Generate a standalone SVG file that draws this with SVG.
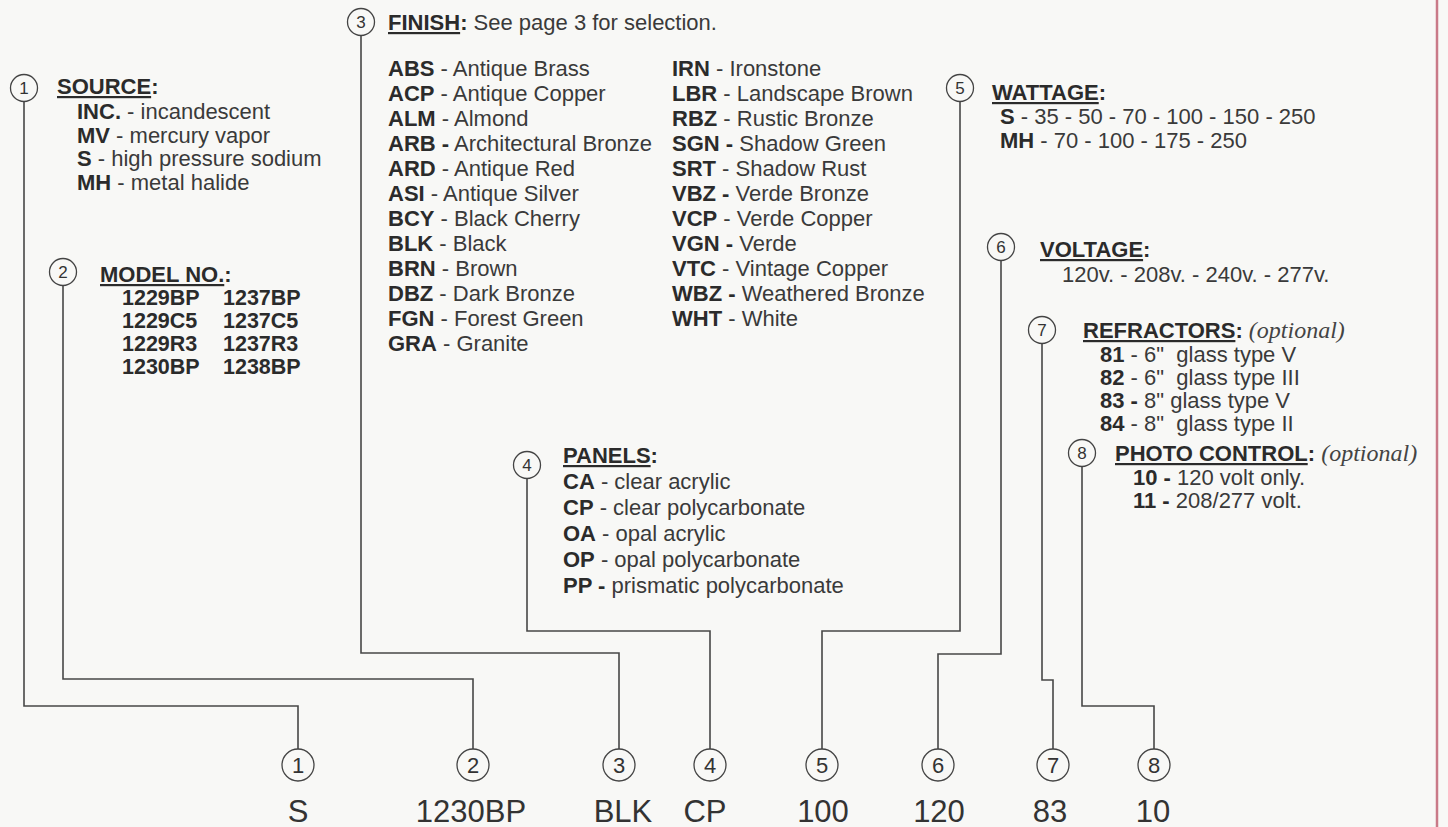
<svg xmlns="http://www.w3.org/2000/svg" width="1448" height="827" viewBox="0 0 1448 827">
<style>
  text { font-family: "Liberation Sans", Arial, sans-serif; fill: #3a3a3a; }
  .b { font-weight: bold; fill: #2b2b2b; }
  .h { font-size: 22px; font-weight: bold; fill: #2b2b2b; }
  .t { font-size: 22px; }
  .u { text-decoration: underline; }
  .opt { font-family: "Liberation Serif", "Times New Roman", serif; font-style: italic; font-weight: normal; fill: #444; font-size: 24px; }
  .num { font-size: 17px; text-anchor: middle; fill: #333; }
  .bnum { font-size: 22px; text-anchor: middle; fill: #333; }
  .val { font-size: 31px; text-anchor: middle; fill: #333; }
  circle { fill: none; stroke: #444; stroke-width: 1.3; }
  .conn path { fill: none; stroke: #474747; stroke-width: 1.6; }
</style>
<rect width="1448" height="827" fill="#f8f8f6"/>
<line x1="1437" y1="0" x2="1437" y2="827" stroke="#c97a88" stroke-width="2.5"/>

<g class="conn" id="connectors">
  <path d="M24 101.5 V706 H298 V749"/>
  <path d="M63 285.5 V679 H473 V749"/>
  <path d="M361 35.5 V653 H619 V749"/>
  <path d="M527 478.5 V631 H710 V749"/>
  <path d="M960 101.5 V631 H822 V749"/>
  <path d="M1001 260.5 V654 H938 V749"/>
  <path d="M1042 343.5 V680 H1053 V749"/>
  <path d="M1082 466.5 V706 H1154 V749"/>
</g>

<g id="source">
  <circle cx="24" cy="88" r="13.5"/><text class="num" x="24" y="94">1</text>
  <text class="h" x="57" y="94"><tspan class="u">SOURCE</tspan>:</text>
  <text class="t" x="77" y="119"><tspan class="b">INC.</tspan> - incandescent</text>
  <text class="t" x="77" y="142.5"><tspan class="b">MV</tspan> - mercury vapor</text>
  <text class="t" x="77" y="166"><tspan class="b">S</tspan> - high pressure sodium</text>
  <text class="t" x="77" y="189.5"><tspan class="b">MH</tspan> - metal halide</text>
</g>

<g id="model">
  <circle cx="63" cy="272" r="13.5"/><text class="num" x="63" y="278">2</text>
  <text class="h" x="100" y="282"><tspan class="u">MODEL NO.</tspan>:</text>
  <text class="b" font-size="21.5" x="122" y="305">1229BP</text><text class="b" font-size="21.5" x="223" y="305">1237BP</text>
  <text class="b" font-size="21.5" x="122" y="328">1229C5</text><text class="b" font-size="21.5" x="223" y="328">1237C5</text>
  <text class="b" font-size="21.5" x="122" y="351">1229R3</text><text class="b" font-size="21.5" x="223" y="351">1237R3</text>
  <text class="b" font-size="21.5" x="122" y="374">1230BP</text><text class="b" font-size="21.5" x="223" y="374">1238BP</text>
</g>

<g id="finish">
  <circle cx="361" cy="22" r="13.5"/><text class="num" x="361" y="28">3</text>
  <text class="h" x="388" y="30"><tspan class="u">FINISH</tspan>:<tspan font-weight="normal" fill="#3a3a3a">  See page 3 for selection.</tspan></text>
  <text class="t" x="388" y="76"><tspan class="b">ABS</tspan> - Antique Brass</text>
  <text class="t" x="388" y="101"><tspan class="b">ACP</tspan> - Antique Copper</text>
  <text class="t" x="388" y="126"><tspan class="b">ALM</tspan> - Almond</text>
  <text class="t" x="388" y="151"><tspan class="b">ARB -</tspan> Architectural Bronze</text>
  <text class="t" x="388" y="176"><tspan class="b">ARD</tspan> - Antique Red</text>
  <text class="t" x="388" y="201"><tspan class="b">ASI</tspan> - Antique Silver</text>
  <text class="t" x="388" y="226"><tspan class="b">BCY</tspan> - Black Cherry</text>
  <text class="t" x="388" y="251"><tspan class="b">BLK</tspan> - Black</text>
  <text class="t" x="388" y="276"><tspan class="b">BRN</tspan> - Brown</text>
  <text class="t" x="388" y="301"><tspan class="b">DBZ</tspan> - Dark Bronze</text>
  <text class="t" x="388" y="326"><tspan class="b">FGN</tspan> - Forest Green</text>
  <text class="t" x="388" y="351"><tspan class="b">GRA</tspan> - Granite</text>
  <text class="t" x="672" y="76"><tspan class="b">IRN</tspan> - Ironstone</text>
  <text class="t" x="672" y="101"><tspan class="b">LBR</tspan> - Landscape Brown</text>
  <text class="t" x="672" y="126"><tspan class="b">RBZ</tspan> - Rustic Bronze</text>
  <text class="t" x="672" y="151"><tspan class="b">SGN -</tspan> Shadow Green</text>
  <text class="t" x="672" y="176"><tspan class="b">SRT</tspan> - Shadow Rust</text>
  <text class="t" x="672" y="201"><tspan class="b">VBZ -</tspan> Verde Bronze</text>
  <text class="t" x="672" y="226"><tspan class="b">VCP</tspan> - Verde Copper</text>
  <text class="t" x="672" y="251"><tspan class="b">VGN -</tspan> Verde</text>
  <text class="t" x="672" y="276"><tspan class="b">VTC</tspan> - Vintage Copper</text>
  <text class="t" x="672" y="301"><tspan class="b">WBZ -</tspan> Weathered Bronze</text>
  <text class="t" x="672" y="326"><tspan class="b">WHT</tspan> - White</text>
</g>

<g id="panels">
  <circle cx="527" cy="465" r="13.5"/><text class="num" x="527" y="471">4</text>
  <text class="h" x="563" y="463"><tspan class="u">PANELS</tspan>:</text>
  <text class="t" x="563" y="489" font-size="23"><tspan class="b">CA</tspan> - clear acrylic</text>
  <text class="t" x="563" y="515" font-size="23"><tspan class="b">CP</tspan> - clear polycarbonate</text>
  <text class="t" x="563" y="541" font-size="23"><tspan class="b">OA</tspan> - opal acrylic</text>
  <text class="t" x="563" y="567" font-size="23"><tspan class="b">OP</tspan> - opal polycarbonate</text>
  <text class="t" x="563" y="593" font-size="23"><tspan class="b">PP -</tspan> prismatic polycarbonate</text>
</g>

<g id="wattage">
  <circle cx="960" cy="88" r="13.5"/><text class="num" x="960" y="94">5</text>
  <text class="h" x="992" y="100"><tspan class="u">WATTAGE</tspan>:</text>
  <text class="t" x="1000" y="124" font-size="23"><tspan class="b">S</tspan> - 35 - 50 - 70 - 100 - 150 - 250</text>
  <text class="t" x="1000" y="148" font-size="23"><tspan class="b">MH</tspan> - 70 - 100 - 175 - 250</text>
</g>

<g id="voltage">
  <circle cx="1001" cy="247" r="13.5"/><text class="num" x="1001" y="253">6</text>
  <text class="h" x="1040" y="257"><tspan class="u">VOLTAGE</tspan>:</text>
  <text class="t" x="1062" y="282" font-size="21.5">120v. - 208v. - 240v. - 277v.</text>
</g>

<g id="refractors">
  <circle cx="1042" cy="330" r="13.5"/><text class="num" x="1042" y="336">7</text>
  <text class="h" x="1083" y="338" font-size="23"><tspan class="u">REFRACTORS</tspan>: <tspan class="opt">(optional)</tspan></text>
  <text class="t" x="1100" y="362" xml:space="preserve"><tspan class="b">81</tspan> - 6"  glass type V</text>
  <text class="t" x="1100" y="385" xml:space="preserve"><tspan class="b">82</tspan> - 6"  glass type III</text>
  <text class="t" x="1100" y="408" xml:space="preserve"><tspan class="b">83 -</tspan> 8" glass type V</text>
  <text class="t" x="1100" y="431" xml:space="preserve"><tspan class="b">84</tspan> - 8"  glass type II</text>
</g>

<g id="photocontrol">
  <circle cx="1082" cy="453" r="13.5"/><text class="num" x="1082" y="459">8</text>
  <text class="h" x="1115" y="461" font-size="23"><tspan class="u">PHOTO CONTROL</tspan>: <tspan class="opt">(optional)</tspan></text>
  <text class="t" x="1133" y="485" font-size="21"><tspan class="b">10 -</tspan> 120 volt only.</text>
  <text class="t" x="1133" y="508" font-size="21"><tspan class="b">11 -</tspan> 208/277 volt.</text>
</g>

<g id="item1"><circle cx="298" cy="765" r="16"/><text class="bnum" x="298" y="773">1</text><text class="val" x="298" y="822">S</text></g>
<g id="item2"><circle cx="473" cy="765" r="16"/><text class="bnum" x="473" y="773">2</text><text class="val" x="471" y="822">1230BP</text></g>
<g id="item3"><circle cx="619" cy="765" r="16"/><text class="bnum" x="619" y="773">3</text><text class="val" x="623" y="822">BLK</text></g>
<g id="item4"><circle cx="710" cy="765" r="16"/><text class="bnum" x="710" y="773">4</text><text class="val" x="705" y="822">CP</text></g>
<g id="item5"><circle cx="822" cy="765" r="16"/><text class="bnum" x="822" y="773">5</text><text class="val" x="823" y="822">100</text></g>
<g id="item6"><circle cx="938" cy="765" r="16"/><text class="bnum" x="938" y="773">6</text><text class="val" x="939" y="822">120</text></g>
<g id="item7"><circle cx="1053" cy="765" r="16"/><text class="bnum" x="1053" y="773">7</text><text class="val" x="1050" y="822">83</text></g>
<g id="item8"><circle cx="1154" cy="765" r="16"/><text class="bnum" x="1154" y="773">8</text><text class="val" x="1153" y="822">10</text></g>
</svg>
